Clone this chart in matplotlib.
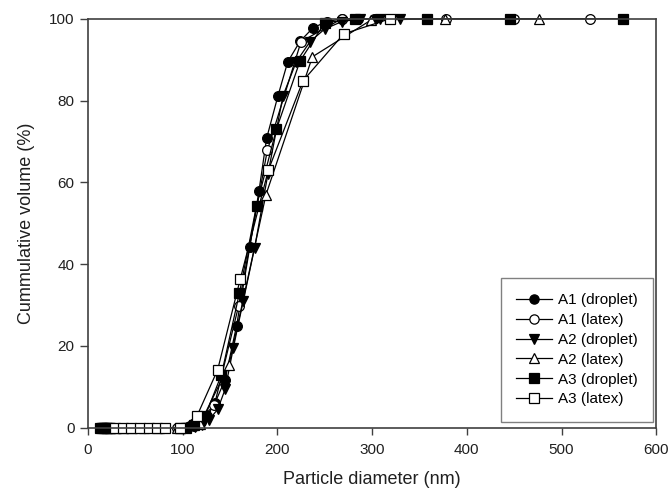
import matplotlib
matplotlib.use('Agg')
import matplotlib.pyplot as plt

plt.rcParams['font.family'] = ['Liberation Sans', 'DejaVu Sans']

# A1 droplet
a1d_x = [14, 16, 18, 20, 22.5, 100, 106, 112, 119, 126, 134, 144.7, 157, 171, 180.6,
         188.7, 200.7, 211, 224, 237.7, 252, 268, 285, 302]
a1d_y = [0, 0, 0, 0, 0, 0, 0.3, 0.8, 1.5, 3, 6, 11.7, 25, 44.3, 57.9,
         70.8, 81.2, 89.5, 94.5, 97.8, 99.3, 100, 100, 100]
# A1 latex
a1l_x = [33, 39.3, 46.8, 55.7, 66.3, 78.9, 94, 112, 133.6, 159, 189.4, 225, 268, 319, 378, 450, 530]
a1l_y = [0, 0, 0, 0, 0, 0, 0, 0.5, 5.6, 29.7, 67.8, 94.4, 100, 100, 100, 100, 100]
# A2 droplet
a2d_x = [15, 17, 19.5, 22, 106, 113, 120, 128, 137, 145, 153.5, 164, 176, 190, 206,
         220, 234.5, 250, 268, 287, 308, 330]
a2d_y = [0, 0, 0, 0, 0, 0.3, 0.8, 2, 4.5, 9.5, 19.5, 31, 44, 62, 81.2,
         89.5, 94.4, 97.5, 99.3, 100, 100, 100]
# A2 latex
a2l_x = [18.6, 23.5, 29.6, 37.3, 47, 59.2, 74.6, 94, 118.4, 149, 188, 237, 299, 377, 476]
a2l_y = [0, 0, 0, 0, 0, 0, 0, 0, 1.0, 15.4, 57, 90.7, 99.7, 100, 100]
# A3 droplet
a3d_x = [13, 15, 17.5, 20, 23, 97, 104, 112, 124, 141, 160, 178, 199, 224, 250, 282, 358, 446, 565]
a3d_y = [0, 0, 0, 0, 0, 0, 0, 0.8, 3, 13, 33, 54.3, 73, 89.7, 99, 100, 100, 100, 100]
# A3 latex
a3l_x = [29, 37.5, 46, 55, 64, 72.5, 81, 97, 115, 137, 161, 190.5, 227, 270, 319]
a3l_y = [0, 0, 0, 0, 0, 0, 0, 0, 2.8, 14.2, 36.5, 63, 84.8, 96.3, 100]

series = [
    (a1d_x, a1d_y, 'o', 'black', 'A1 (droplet)'),
    (a1l_x, a1l_y, 'o', 'white', 'A1 (latex)'),
    (a2d_x, a2d_y, 'v', 'black', 'A2 (droplet)'),
    (a2l_x, a2l_y, '^', 'white', 'A2 (latex)'),
    (a3d_x, a3d_y, 's', 'black', 'A3 (droplet)'),
    (a3l_x, a3l_y, 's', 'white', 'A3 (latex)'),
]

fig = plt.figure(figsize=(6.71, 4.94), dpi=100)
ax = fig.add_axes([0.131, 0.134, 0.847, 0.828])

for x, y, m, fc, lab in series:
    ax.plot(x, y, color='black', lw=0.9, marker=m, markersize=7,
            markerfacecolor=fc, markeredgecolor='black', markeredgewidth=0.9,
            label=lab, clip_on=False)

ax.set_xlim(0, 600)
ax.set_ylim(0, 100)
ax.set_xticks([0, 100, 200, 300, 400, 500, 600])
ax.set_yticks([0, 20, 40, 60, 80, 100])
for s in ax.spines.values():
    s.set_color('#404040')
    s.set_linewidth(1.2)
ax.tick_params(direction='out', width=1, color='#404040', labelsize=11,
               labelcolor='#202020', top=False, right=False)
ax.tick_params(axis='x', length=5, pad=6)
ax.tick_params(axis='y', length=6, pad=3.5)
ax.set_xlabel('Particle diameter (nm)', fontsize=13, color='#202020', labelpad=10)
ax.set_ylabel('Cummulative volume (%)', fontsize=13, color='#202020', labelpad=10)

leg = ax.legend(loc='lower right', bbox_to_anchor=(0.995, 0.015), borderaxespad=0,
                fontsize=11, frameon=True, fancybox=False, edgecolor='#606060',
                handlelength=2.35, labelspacing=0.38, borderpad=1.0,
                handletextpad=0.4, markerscale=0.95)
leg.get_frame().set_linewidth(1.0)

fig.savefig('out.png', dpi=100)
